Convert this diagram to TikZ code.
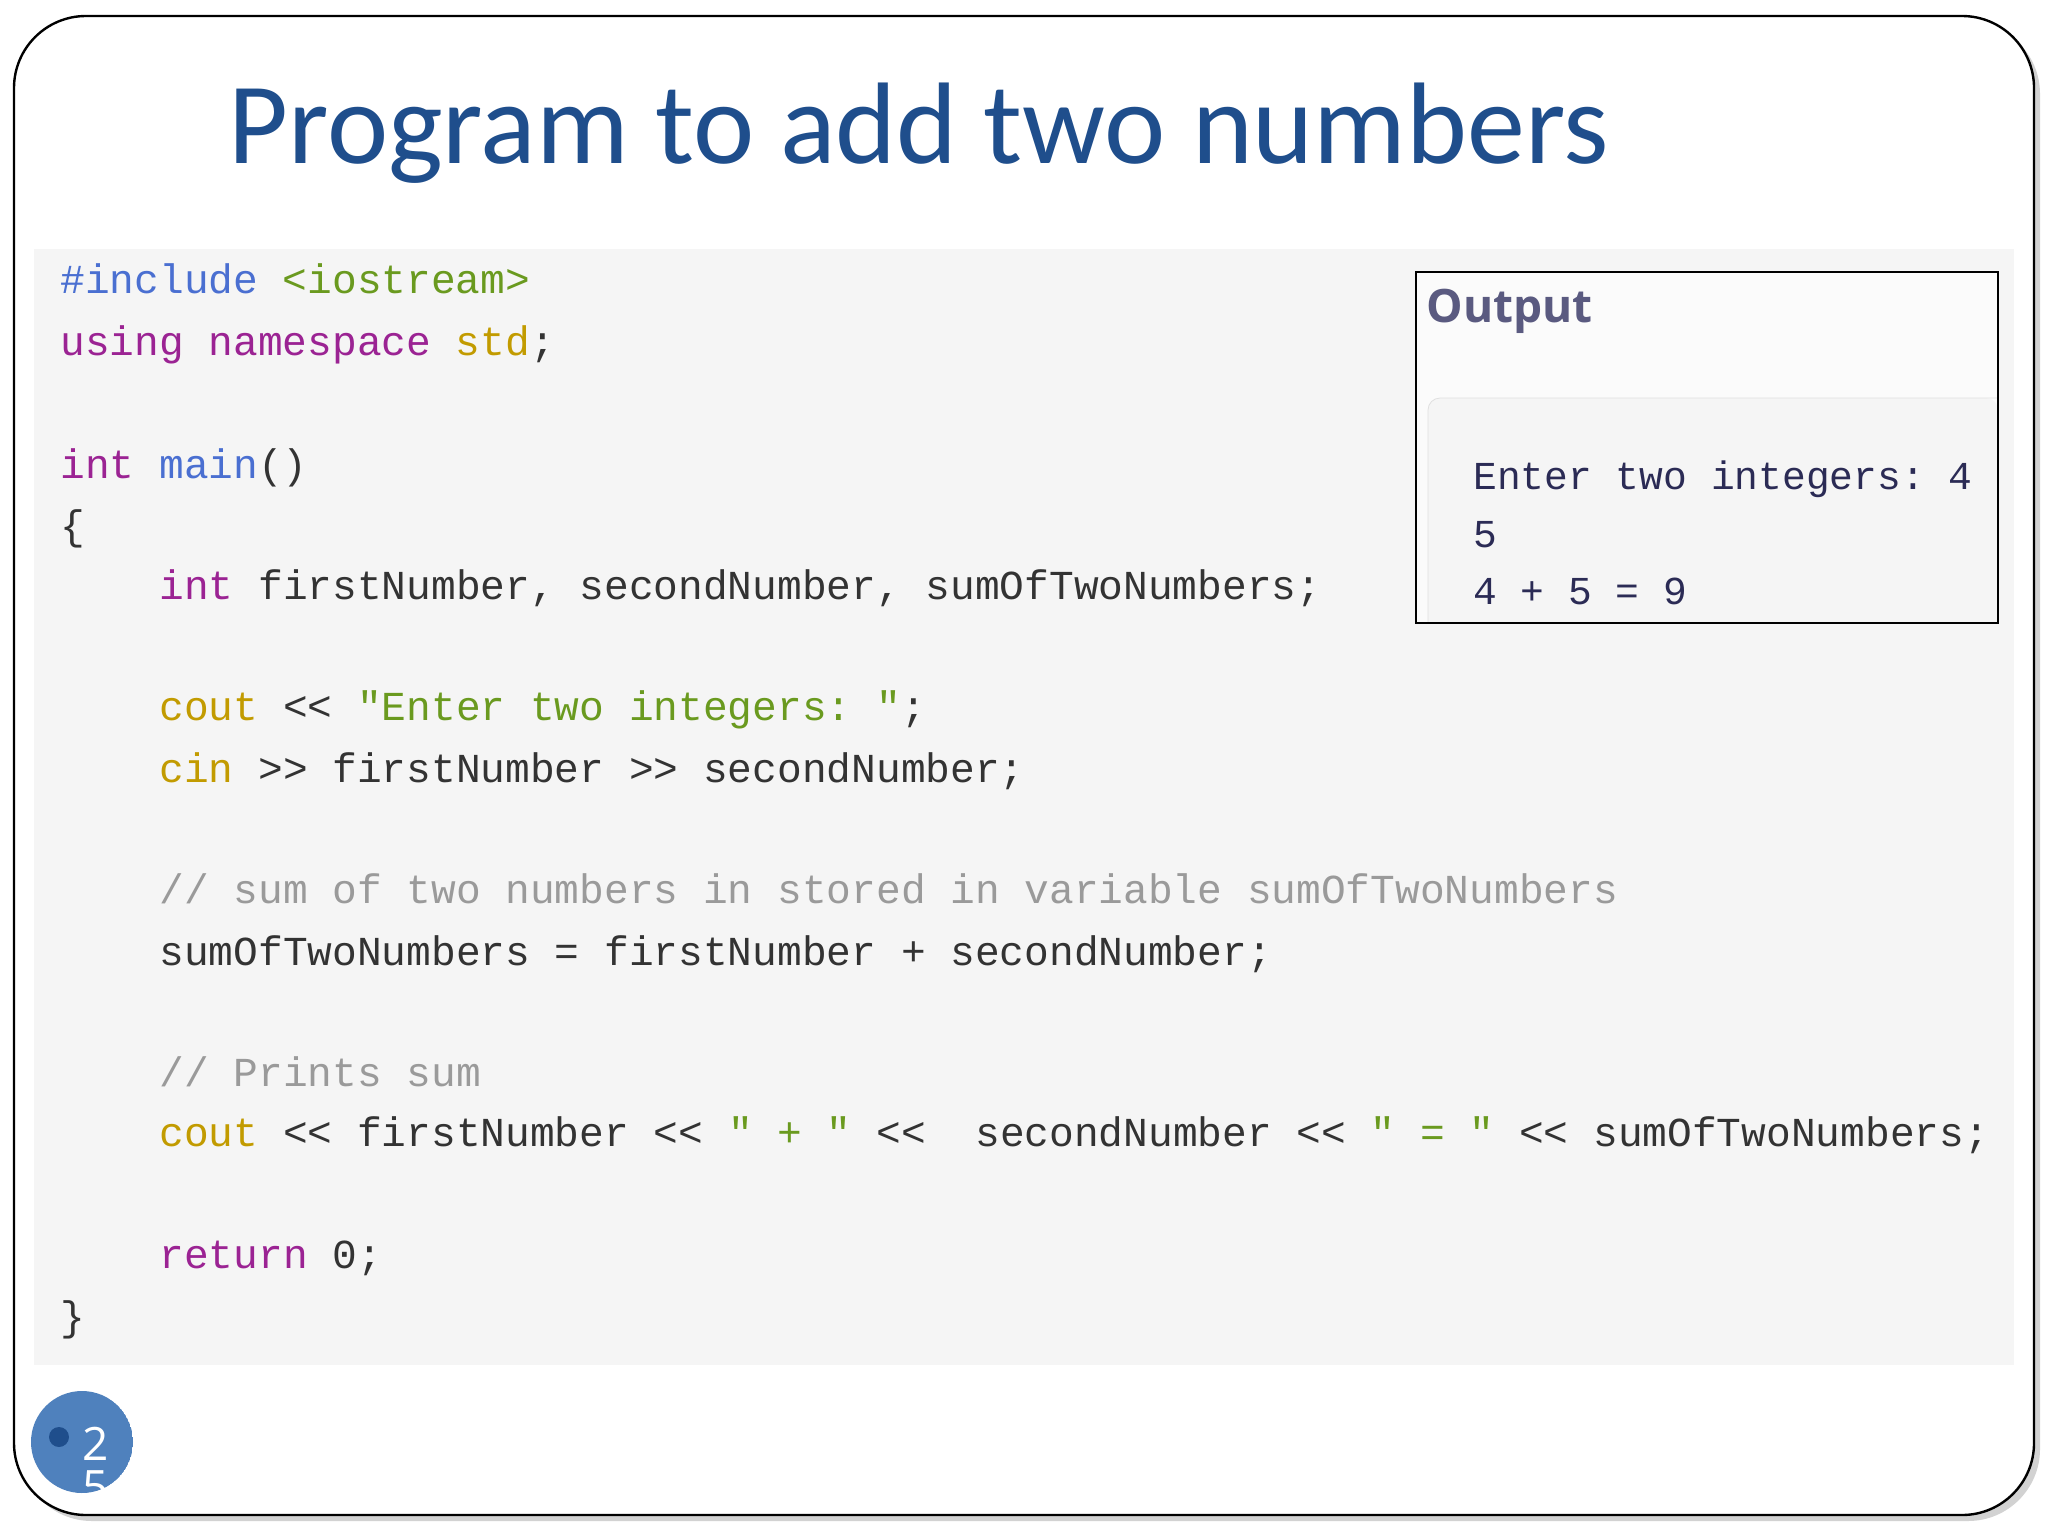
\documentclass[tikz,border=0pt]{standalone}
\usepackage{fontspec}
\setmainfont{Carlito}
\setsansfont{Open Sans}
\setmonofont{Liberation Mono}
\usetikzlibrary{shadows}
\definecolor{titleblue}{HTML}{1F4E8C}
\definecolor{codebg}{HTML}{F5F5F5}
\definecolor{kwblue}{HTML}{4A6FD1}
\definecolor{strgreen}{HTML}{6A9A1F}
\definecolor{kwpurple}{HTML}{9B2393}
\definecolor{kworange}{HTML}{C29B00}
\definecolor{cmtgray}{HTML}{9A9A9A}
\definecolor{plain}{HTML}{333333}
\definecolor{outnavy}{HTML}{2B2B55}
\definecolor{outhead}{HTML}{5A5A80}
\definecolor{pageblue}{HTML}{4F81BD}
\definecolor{pagedot}{HTML}{1F4E8C}
\tikzset{
  code/.style={anchor=base west, inner sep=0pt, font=\ttfamily\fontsize{20.6}{24}\selectfont, text=plain},
  outtxt/.style={anchor=base west, inner sep=0pt, font=\ttfamily\fontsize{19.8}{22}\selectfont, text=outnavy},
}
\begin{document}
\begin{tikzpicture}[x=0.5pt,y=-0.5pt]
\useasboundingbox (0,0) rectangle (2048,1536);
\fill[white] (0,0) rectangle (2048,1536);
% slide frame
\draw[black, line width=1.2pt, fill=white, rounded corners=36pt, drop shadow={opacity=0.35, shadow xshift=3pt, shadow yshift=-3pt}]
  (14,16) rectangle (2034,1515);
% title
\node[anchor=base west, inner sep=0pt, text=titleblue, font=\fontsize{58}{64}\selectfont] (title) at (228,163) {Program to add two numbers};
% code panel
\fill[codebg] (34,249) rectangle (2014,1365);
\node[code] (l1) at (60,293) {\textcolor{kwblue}{\#include} \textcolor{strgreen}{<iostream>}};
\node[code] (l2) at (60,355) {\textcolor{kwpurple}{using namespace} \textcolor{kworange}{std};};
\node[code] (l3) at (60,478) {\textcolor{kwpurple}{int} \textcolor{kwblue}{main}()};
\node[code] (l4) at (60,539) {\{};
\node[code] (l5) at (159,599) {\textcolor{kwpurple}{int} firstNumber, secondNumber, sumOfTwoNumbers;};
\node[code] (l6) at (159,720) {\textcolor{kworange}{cout} << \textcolor{strgreen}{"Enter two integers: "};};
\node[code] (l7) at (159,782) {\textcolor{kworange}{cin} >> firstNumber >> secondNumber;};
\node[code] (l8) at (159,903) {\textcolor{cmtgray}{// sum of two numbers in stored in variable sumOfTwoNumbers}};
\node[code] (l9) at (159,965) {sumOfTwoNumbers = firstNumber + secondNumber;};
\node[code] (l10) at (159,1086) {\textcolor{cmtgray}{// Prints sum}};
\node[code] (l11) at (159,1146) {\textcolor{kworange}{cout} << firstNumber << \textcolor{strgreen}{" + "} <<\ \ secondNumber << \textcolor{strgreen}{" = "} << sumOfTwoNumbers;};
\node[code] (l12) at (159,1268) {\textcolor{kwpurple}{return} 0;};
\node[code] (l13) at (60,1330) {\}};
% output box
\fill[white!60!codebg] (1416,272) rectangle (1998,623);
\fill[codebg, rounded corners=6pt] (1428,398) rectangle (1998,640);
\draw[black!12, rounded corners=6pt] (1428,623) -- (1428,398) -- (1998,398);
\fill[codebg] (1416,623) rectangle (1998,640);
\draw[black, line width=1pt] (1416,272) rectangle (1998,623);
\node[anchor=base west, inner sep=0pt, text=outhead, font=\sffamily\bfseries\fontsize{23}{26}\selectfont] (outh) at (1426,322) {Output};
\node[outtxt] (o1) at (1473,489) {Enter two integers: 4};
\node[outtxt] (o2) at (1473,547) {5};
\node[outtxt] (o3) at (1473,604) {4 + 5 = 9};
% page number
\begin{scope}
\clip (82,1442) circle[radius=51];
\fill[pageblue] (82,1442) circle[radius=51];
\fill[pagedot] (59,1437) circle[radius=10];
\node[anchor=base west, inner sep=0pt, text=white, font=\sffamily\fontsize{23}{26}\selectfont] (pg1) at (82,1460) {2};
\node[anchor=base west, inner sep=0pt, text=white, font=\sffamily\fontsize{23}{26}\selectfont] (pg2) at (82,1503) {5};
\end{scope}
\end{tikzpicture}
\end{document}
